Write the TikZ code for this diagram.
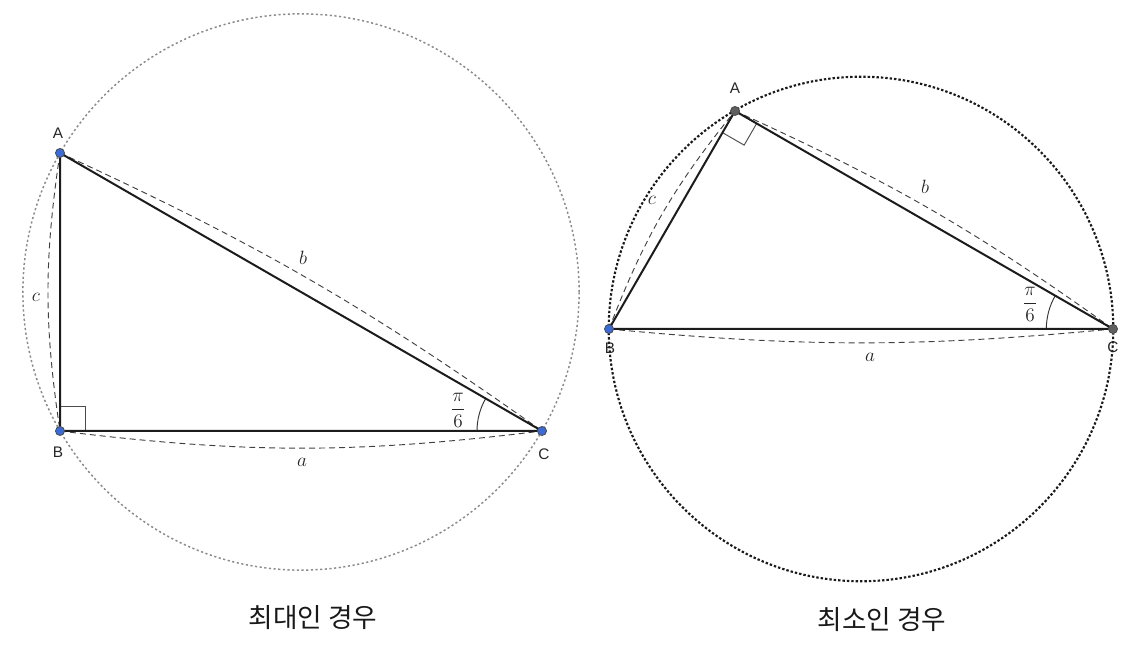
\documentclass[tikz,border=0pt]{standalone}
\usepackage{fontspec}
\usepackage{amsmath}
\setsansfont{Liberation Sans}
\newfontfamily\krfont{Noto Sans CJK KR}
\usetikzlibrary{calc}
\definecolor{ggblue}{HTML}{3A6BD6}
\definecolor{gggray}{HTML}{5F5F5F}
\definecolor{circgray}{HTML}{8A8A8A}
\definecolor{sidecol}{HTML}{1C1C1C}
\tikzset{
  leftcirc/.style={draw=circgray, line width=1.1pt, dash pattern=on 1.6pt off 1.9pt},
  rightcirc/.style={draw=black!90, line width=1.6pt, dash pattern=on 1.8pt off 1.5pt},
  side/.style={draw=sidecol, line width=1.5pt},
  sidearc/.style={draw=black!75, line width=0.7pt, dash pattern=on 4.5pt off 3pt},
  rmark/.style={draw=black!70, line width=0.7pt},
  angarc/.style={draw=black!80, line width=0.7pt},
  bluedot/.style={circle, fill=ggblue, draw=black!70, line width=0.6pt, inner sep=0pt, minimum size=6.8pt},
  graydot/.style={circle, fill=gggray, draw=black!70, line width=0.6pt, inner sep=0pt, minimum size=6.8pt},
  vlabel/.style={font=\sffamily\fontsize{11.5}{12}\selectfont, text=black!85, inner sep=0pt},
  slabel/.style={font=\fontsize{15}{16}\selectfont, text=black!85, inner sep=0pt},
  flabel/.style={font=\fontsize{15}{16}\selectfont, text=black!85, inner sep=0pt},
  caption/.style={font=\krfont\fontsize{20}{22}\selectfont, text=black!90, inner sep=0pt}
}
\begin{document}
\begin{tikzpicture}[x=0.75pt, y=0.75pt]
\useasboundingbox (0,0) rectangle (1140,648);
% ---------- left figure ----------
\coordinate (LA) at (60,495);
\coordinate (LB) at (60,217);
\coordinate (LC) at (542,217);
\coordinate (LO) at (301,356);
\draw[leftcirc] (LO) circle[radius=208.6pt];
\draw[sidearc] (LA) to[bend right=8.5] (LB);
\draw[sidearc] (LA) to[bend left=5.3] (LC);
\draw[sidearc] (LB) to[bend right=7] (LC);
\draw[rmark] (LB) -- ++(0,25) -- ++(25,0) -- ++(0,-25);
\draw[angarc] (LC) ++(180:48.75pt) arc[start angle=180, end angle=150, radius=48.75pt];
\draw[side] (LA) -- (LB) -- (LC) -- cycle;
\node[bluedot] (dLA) at (LA) {};
\node[bluedot] (dLB) at (LB) {};
\node[bluedot] (dLC) at (LC) {};
\node[vlabel] (tLA) at (58,515) {A};
\node[vlabel] (tLB) at (58,196) {B};
\node[vlabel] (tLC) at (544,194) {C};
\node[slabel] (tLc) at (36,351) {$c$};
\node[slabel] (tLb) at (303,390) {$b$};
\node[slabel] (tLa) at (302,186) {$a$};
\node[flabel] (tLang) at (458,238) {$\dfrac{\pi}{6}$};
\node[caption] (capL) at (313,30) {최대인 경우};
% ---------- right figure ----------
\coordinate (RA) at (735,537);
\coordinate (RB) at (609,319);
\coordinate (RC) at (1113,319);
\coordinate (RO) at (861,319);
\draw[rightcirc] (RO) circle[radius=189.2pt];
\draw[sidearc] (RB) to[bend left=9] (RA);
\draw[sidearc] (RA) to[bend left=5.6] (RC);
\draw[sidearc] (RB) to[bend right=5.4] (RC);
\draw[rmark] ([shift={(-12.5,-21.65)}]RA) -- ++(21.65,-12.5) -- ++(12.5,21.65);
\draw[angarc] (RC) ++(180:50pt) arc[start angle=180, end angle=150, radius=50pt];
\draw[side] (RA) -- (RB) -- (RC) -- cycle;
\node[graydot] (dRA) at (RA) {};
\node[bluedot] (dRB) at (RB) {};
\node[graydot] (dRC) at (RC) {};
\node[vlabel] (tRA) at (735,560) {A};
\node[vlabel] (tRB) at (610,300) {B};
\node[vlabel] (tRC) at (1113,301) {C};
\node[slabel] (tRc) at (652,448) {$c$};
\node[slabel] (tRb) at (925,461) {$b$};
\node[slabel] (tRa) at (870,291) {$a$};
\node[flabel] (tRang) at (1030,344) {$\dfrac{\pi}{6}$};
\node[caption] (capR) at (882,28) {최소인 경우};
\end{tikzpicture}
\end{document}
